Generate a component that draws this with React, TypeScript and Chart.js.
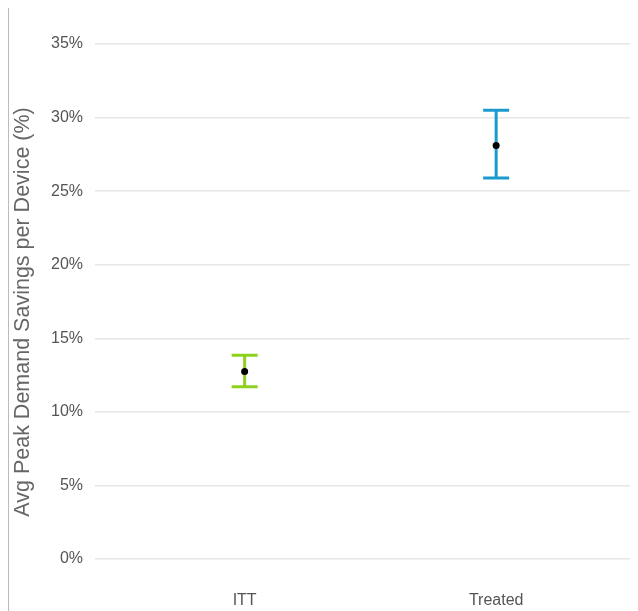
import React, { useEffect, useRef } from "react";
import { Chart, registerables } from "chart.js";

Chart.register(...registerables);

const categories = ["ITT", "Treated"];
const meanValues = [12.75, 28.1];
const lowValues = [11.7, 25.9];
const highValues = [13.85, 30.5];
const barColors = ["#8ed11c", "#1c9ad0"];
const yTicks = [0, 5, 10, 15, 20, 25, 30, 35];
const yTitle = "Avg Peak Demand Savings per Device (%)";

const errorBarPlugin = {
  id: "errorBars",
  afterDatasetsDraw(chart: any) {
    const { ctx, scales } = chart;
    const xs = scales.x;
    const ys = scales.y;
    ctx.save();
    categories.forEach((_, i) => {
      const x = xs.getPixelForValue(i);
      const yl = ys.getPixelForValue(lowValues[i]);
      const yh = ys.getPixelForValue(highValues[i]);
      ctx.strokeStyle = barColors[i];
      ctx.lineWidth = 3;
      ctx.beginPath();
      ctx.moveTo(x, yl);
      ctx.lineTo(x, yh);
      ctx.moveTo(x - 13, yl);
      ctx.lineTo(x + 13, yl);
      ctx.moveTo(x - 13, yh);
      ctx.lineTo(x + 13, yh);
      ctx.stroke();
      const ym = ys.getPixelForValue(meanValues[i]);
      ctx.fillStyle = "#000";
      ctx.beginPath();
      ctx.arc(x, ym, 3.5, 0, Math.PI * 2);
      ctx.fill();
    });
    ctx.restore();
  },
};

const titlePlugin = {
  id: "yTitle",
  afterDraw(chart: any) {
    const { ctx } = chart;
    ctx.save();
    ctx.translate(14, 304);
    ctx.rotate(-Math.PI / 2);
    ctx.fillStyle = "#666";
    ctx.font = "21.5px Arial, 'Liberation Sans'";
    ctx.textAlign = "center";
    ctx.textBaseline = "middle";
    ctx.fillText(yTitle, 0, 0);
    ctx.restore();
  },
};

export default function App() {
  const ref = useRef<HTMLCanvasElement>(null);
  useEffect(() => {
    if (!ref.current) return;
    const chart = new Chart(ref.current, {
      type: "scatter",
      data: {
        datasets: [
          {
            data: meanValues.map((v, i) => ({ x: i, y: v })),
            pointRadius: 0,
            showLine: false,
          },
        ],
      },
      options: {
        animation: false,
        responsive: false,
        layout: { padding: { top: 36, right: 0, bottom: 0, left: 0 } },
        plugins: { legend: { display: false }, tooltip: { enabled: false } },
        scales: {
          x: {
            type: "linear",
            min: -0.595,
            max: 1.564,
            afterBuildTicks: (s: any) => {
              s.ticks = categories.map((_, i) => ({ value: i }));
            },
            afterFit: (s: any) => {
              s.height = 52;
            },
            grid: { display: false },
            border: { display: false },
            ticks: {
              padding: 24,
              color: "#555",
              font: { family: "Arial, 'Liberation Sans'", size: 16 },
              callback: (v: any) => categories[v] ?? "",
            },
          },
          y: {
            min: 0,
            max: 35,
            afterBuildTicks: (s: any) => {
              s.ticks = yTicks.map((v) => ({ value: v }));
            },
            afterFit: (s: any) => {
              s.width = 86;
            },
            grid: { color: "#e6e6e6", lineWidth: 1.5, drawTicks: false },
            border: { display: false },
            ticks: {
              padding: 12,
              color: "#555",
              font: { family: "Arial, 'Liberation Sans'", size: 16 },
              callback: (v: any) => v + "%",
            },
          },
        },
      },
      plugins: [errorBarPlugin, titlePlugin],
    });
    return () => chart.destroy();
  }, []);
  return (
    <div style={{ width: 630, height: 603, borderLeft: "1px solid #bbb", boxSizing: "border-box" }}>
      <canvas ref={ref} width={629} height={603} style={{ display: "block" }} />
    </div>
  );
}
